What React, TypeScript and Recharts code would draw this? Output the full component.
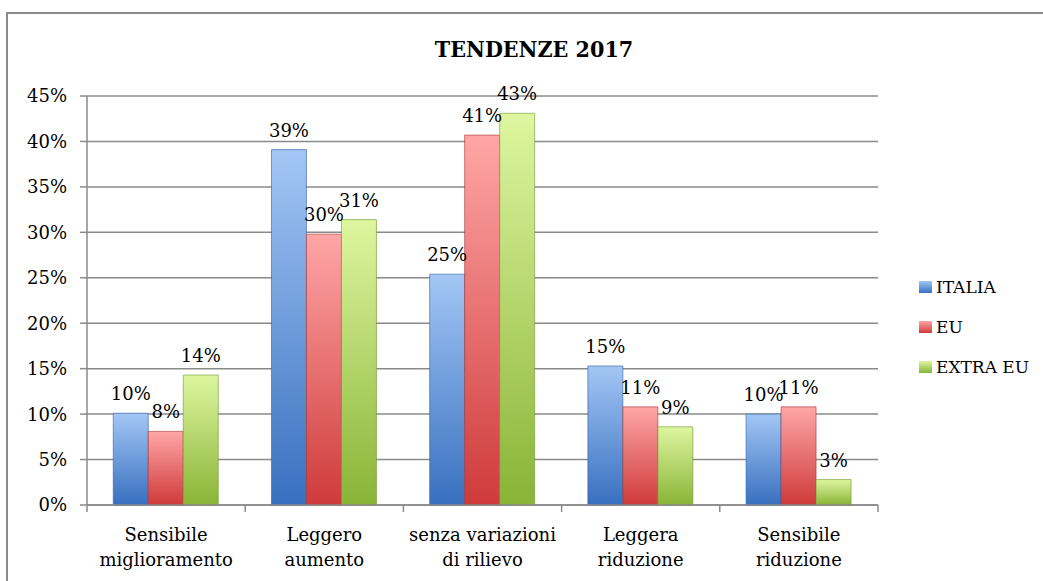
import { BarChart, Bar, XAxis, YAxis, CartesianGrid, Legend, LabelList } from 'recharts';

const categories = [
  'Sensibile\nmiglioramento',
  'Leggero\naumento',
  'senza variazioni\ndi rilievo',
  'Leggera\nriduzione',
  'Sensibile\nriduzione',
];
const italia = [10.1, 39.1, 25.4, 15.3, 10.0];
const eu = [8.1, 29.8, 40.7, 10.8, 10.8];
const extraEu = [14.3, 31.4, 43.1, 8.6, 2.8];
const yTicks = [0, 5, 10, 15, 20, 25, 30, 35, 40, 45];

const seriesNames = ['ITALIA', 'EU', 'EXTRA EU'];

const data = categories.map((cat, i) => ({
  cat,
  italia: italia[i],
  eu: eu[i],
  extraEu: extraEu[i],
}));

const FONT = '"DejaVu Serif", serif';
const GRID = '#8a8a8a';

const colors = [
  { id: 'gBlue', top: '#a3c6f5', bottom: '#3870bf', edge: '#2f5f9f' },
  { id: 'gRed', top: '#ffa6a6', bottom: '#cf3a3a', edge: '#a83030' },
  { id: 'gGreen', top: '#def6a0', bottom: '#89b437', edge: '#6f9330' },
];

const CategoryTick = (props: any) => {
  const { x, y, payload, index, width, visibleTicksCount } = props;
  const half = width / visibleTicksCount / 2;
  const lines = String(payload.value).split('\n');
  return (
    <g>
      <line x1={x - half} x2={x - half} y1={y} y2={y + 7} stroke={GRID} strokeWidth={1.5} />
      {index === visibleTicksCount - 1 && (
        <line x1={x + half} x2={x + half} y1={y} y2={y + 7} stroke={GRID} strokeWidth={1.5} />
      )}
      <text x={x} y={y} textAnchor="middle" fill="#000" fontSize={18} fontFamily={FONT}>
        {lines.map((l, i) => (
          <tspan key={i} x={x} dy={i === 0 ? 36 : 25}>
            {l}
          </tspan>
        ))}
      </text>
    </g>
  );
};

const LegendContent = () => (
  <div style={{ width: 124, fontFamily: FONT, fontSize: 17, color: '#000' }}>
    {seriesNames.map((name, i) => (
      <div key={name} style={{ display: 'flex', alignItems: 'center', height: 40 }}>
        <span
          style={{
            display: 'inline-block',
            width: 13,
            height: 12,
            marginRight: 4,
            background: `linear-gradient(${colors[i].top}, ${colors[i].bottom})`,
          }}
        />
        <span>{name}</span>
      </div>
    ))}
  </div>
);

const fmt = (v: any) => `${Math.round(Number(v))}%`;

export default function App() {
  return (
    <div style={{ position: 'absolute', left: 0, top: 0, width: 1043, height: 581, overflow: 'hidden', background: '#fff' }}>
      <div
        style={{
          position: 'absolute',
          left: 6,
          top: 12,
          width: 1100,
          height: 700,
          border: `2px solid ${GRID}`,
        }}
      />
      <div
        style={{
          position: 'absolute',
          left: 0,
          top: 37,
          width: 1068,
          textAlign: 'center',
          fontFamily: '"DejaVu Serif Condensed", "DejaVu Serif", serif',
          fontStretch: 'condensed',
          fontWeight: 'bold',
          fontSize: 23,
          lineHeight: '23px',
        }}
      >
        TENDENZE 2017
      </div>
      <div style={{ position: 'absolute', left: 0, top: 0 }}>
        <BarChart
          width={1043}
          height={581}
          data={data}
          margin={{ top: 96, right: 41, bottom: 6, left: 0 }}
          barCategoryGap="16.6%"
          barGap={0}
        >
          <defs>
            {colors.map((c) => (
              <linearGradient key={c.id} id={c.id} x1="0" y1="0" x2="0" y2="1">
                <stop offset="0%" stopColor={c.top} />
                <stop offset="100%" stopColor={c.bottom} />
              </linearGradient>
            ))}
          </defs>
          <CartesianGrid vertical={false} stroke={GRID} strokeWidth={1.5} />
          <XAxis
            dataKey="cat"
            interval={0}
            height={70}
            tickLine={false}
            tickSize={0}
            tickMargin={0}
            axisLine={{ stroke: GRID, strokeWidth: 1.5 }}
            tick={<CategoryTick />}
          />
          <YAxis
            width={87}
            domain={[0, 45]}
            ticks={yTicks}
            interval={0}
            tickFormatter={(v) => `${v}%`}
            tickSize={7}
            tickMargin={13}
            axisLine={{ stroke: GRID, strokeWidth: 1.5 }}
            tickLine={{ stroke: GRID, strokeWidth: 1.5 }}
            tick={{ fill: '#000', fontSize: 18, fontFamily: FONT }}
          />
          <Legend
            layout="vertical"
            align="right"
            verticalAlign="middle"
            content={<LegendContent />}
            wrapperStyle={{ left: 919, top: 267 }}
          />
          <Bar dataKey="italia" name="ITALIA" fill="url(#gBlue)" stroke={colors[0].edge} strokeWidth={0.6} isAnimationActive={false}>
            <LabelList dataKey="italia" position="top" offset={13} formatter={fmt} fill="#000" stroke="none" fontSize={18} fontFamily={FONT} />
          </Bar>
          <Bar dataKey="eu" name="EU" fill="url(#gRed)" stroke={colors[1].edge} strokeWidth={0.6} isAnimationActive={false}>
            <LabelList dataKey="eu" position="top" offset={13} formatter={fmt} fill="#000" stroke="none" fontSize={18} fontFamily={FONT} />
          </Bar>
          <Bar dataKey="extraEu" name="EXTRA EU" fill="url(#gGreen)" stroke={colors[2].edge} strokeWidth={0.6} isAnimationActive={false}>
            <LabelList dataKey="extraEu" position="top" offset={13} formatter={fmt} fill="#000" stroke="none" fontSize={18} fontFamily={FONT} />
          </Bar>
        </BarChart>
      </div>
    </div>
  );
}
